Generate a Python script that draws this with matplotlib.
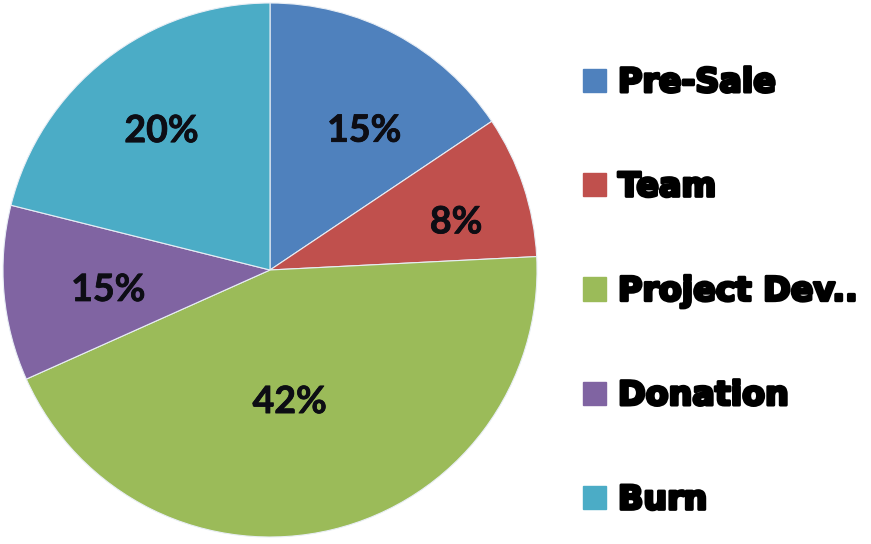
import matplotlib
matplotlib.use("Agg")
import matplotlib.pyplot as plt
import matplotlib.patheffects as pe
from matplotlib.patches import Patch
import numpy as np

categories = ["Pre-Sale", "Team", "Project Dev..", "Donation", "Burn"]
shares = [15.6, 8.6, 44.1, 10.6, 21.1]          # wedge sizes as drawn
label_texts = ["15%", "8%", "42%", "15%", "20%"]  # data labels as printed
colors = ["#4F81BD", "#C0504D", "#9BBB59", "#8064A2", "#4BACC6"]
label_dist = [0.63, 0.72, 0.50, 0.61, 0.66]
label_shift_deg = [-6, -4, -5, 2, 0]

W, H = 871, 544
fig = plt.figure(figsize=(W / 100, H / 100), dpi=100)
cx, cy, r = 270, 270, 267
ax = fig.add_axes([(cx - r) / W, (H - cy - r) / H, 2 * r / W, 2 * r / H])

wedges, _ = ax.pie(shares, colors=colors, startangle=90, counterclock=False,
                   wedgeprops=dict(edgecolor="#e8eef5", linewidth=0.8))
ax.set_xlim(-1, 1)
ax.set_ylim(-1, 1)
ax.set_aspect("equal")

for w, txt, d, s in zip(wedges, label_texts, label_dist, label_shift_deg):
    mid = np.deg2rad((w.theta1 + w.theta2) / 2 + s)
    t = ax.text(d * np.cos(mid), d * np.sin(mid), txt, ha="center", va="center",
                fontsize=27, fontweight="bold", family=["Lato", "DejaVu Sans"],
                color="#0d0d14")
    t.set_path_effects([pe.withStroke(linewidth=0.6, foreground="#0d0d14")])

handles = [Patch(facecolor=c, edgecolor=c) for c in colors]
leg = fig.legend(handles, categories, loc="upper left",
                 bbox_to_anchor=(583 / W, 1 - 66 / H), frameon=False,
                 prop=dict(family="DejaVu Sans", weight="bold", size=24),
                 handlelength=0.70, handleheight=0.70, handletextpad=0.35,
                 labelspacing=2.14, borderpad=0, borderaxespad=0)
for t in leg.get_texts():
    t.set_path_effects([pe.withStroke(linewidth=2.2, foreground="black")])

fig.savefig("out.png", dpi=100)
